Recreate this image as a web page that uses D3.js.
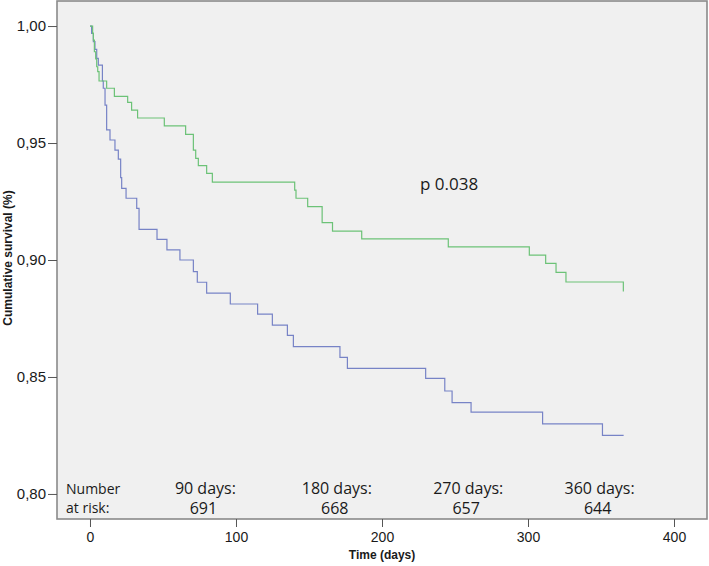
<!DOCTYPE html>
<html>
<head>
<meta charset="utf-8">
<script src="https://cdnjs.cloudflare.com/ajax/libs/d3/7.8.5/d3.min.js"></script>
<style>
  html, body { margin: 0; padding: 0; background: #fff; }
  svg text { fill: #1a1a1a; }
</style>
</head>
<body>
<div id="chart"></div>
<script>
// Kaplan-Meier steps: [time (days), cumulative survival]
const greenSteps = [
  [0, 1.0], [1.8, 0.9969], [2.3, 0.994], [3.0, 0.989], [3.9, 0.986], [4.6, 0.9826],
  [5.3, 0.9805], [6.2, 0.9765], [11.4, 0.9734], [16.7, 0.9699], [25.8, 0.9674],
  [28.5, 0.9641], [32.6, 0.9607], [50.9, 0.9573], [65.5, 0.9537], [70.8, 0.947],
  [72.4, 0.9434], [74.2, 0.9403], [79.9, 0.937], [83.8, 0.9333], [140.2, 0.9299],
  [141.1, 0.9264], [149.1, 0.9228], [159.0, 0.916], [166.1, 0.9123], [186.1, 0.909],
  [245.4, 0.9056], [300.9, 0.9021], [312.1, 0.8986], [319.2, 0.8947], [326.0, 0.8906],
  [365.3, 0.8865]
];
const blueSteps = [
  [0, 1.0], [1.1, 0.9969], [2.3, 0.9933], [3.4, 0.99], [4.6, 0.9862], [5.7, 0.9833],
  [8.5, 0.9765], [9.1, 0.9734], [10.3, 0.9662], [11.4, 0.9556], [13.7, 0.9513],
  [17.1, 0.947], [19.4, 0.9431], [21.0, 0.9352], [21.7, 0.9306], [24.7, 0.9264],
  [32.0, 0.9221], [33.6, 0.9131], [45.9, 0.9088], [52.7, 0.9043], [61.6, 0.9],
  [70.8, 0.895], [73.5, 0.8905], [79.9, 0.8858], [96.1, 0.8812], [114.8, 0.8769],
  [124.9, 0.8722], [135.2, 0.8678], [139.3, 0.863], [171.2, 0.8584], [176.3, 0.8537],
  [229.9, 0.8494], [243, 0.844], [248, 0.839], [261, 0.835], [310, 0.83],
  [351, 0.825], [365.5, 0.825]
];

const xTicks = [0, 100, 200, 300, 400];
const yTicks = [0.80, 0.85, 0.90, 0.95, 1.00];
const riskDays = [90, 180, 270, 360];
const riskCounts = [691, 668, 657, 644];
const pLabel = "p 0.038";

const width = 709, height = 566;
const plot = { left: 57, right: 707, top: 1, bottom: 519 };

const svg = d3.select("#chart").append("svg")
  .attr("width", width)
  .attr("height", height);

const x = d3.scaleLinear()
  .domain([-22.6, 422.6])
  .range([plot.left, plot.right]);

const y = d3.scaleLinear()
  .domain([0.7893, 1.0107])
  .range([plot.bottom, plot.top]);

// plot background
svg.append("rect")
  .attr("x", plot.left)
  .attr("y", plot.top)
  .attr("width", plot.right - plot.left)
  .attr("height", plot.bottom - plot.top)
  .attr("fill", "#f0f0f0")
  .attr("stroke", "#8a8a8a")
  .attr("stroke-width", 1.6);

// y axis
const yAxis = d3.axisLeft(y)
  .tickValues(yTicks)
  .tickSize(9)
  .tickPadding(2)
  .tickFormat(d => d3.format(".2f")(d).replace(".", ","));

const gy = svg.append("g")
  .attr("transform", `translate(${plot.left},0)`)
  .call(yAxis);
gy.select(".domain").remove();
gy.selectAll(".tick line").attr("stroke", "#555");
gy.selectAll(".tick text")
  .style("font-family", "'Liberation Sans', Arial, sans-serif")
  .style("font-size", "15px");

// x axis
const xAxis = d3.axisBottom(x)
  .tickValues(xTicks)
  .tickSize(8)
  .tickPadding(5)
  .tickFormat(d3.format("d"));

const gx = svg.append("g")
  .attr("transform", `translate(0,${plot.bottom})`)
  .call(xAxis);
gx.select(".domain").remove();
gx.selectAll(".tick line").attr("stroke", "#555");
gx.selectAll(".tick text")
  .style("font-family", "'Liberation Sans', Arial, sans-serif")
  .style("font-size", "14px");

// axis titles
svg.append("text")
  .attr("x", 382)
  .attr("y", 559)
  .attr("text-anchor", "middle")
  .style("font-family", "'Liberation Sans', Arial, sans-serif")
  .style("font-weight", "bold")
  .style("font-size", "12px")
  .text("Time (days)");

svg.append("text")
  .attr("transform", "translate(12,258) rotate(-90)")
  .attr("text-anchor", "middle")
  .style("font-family", "'Liberation Sans', Arial, sans-serif")
  .style("font-weight", "bold")
  .style("font-size", "12px")
  .text("Cumulative survival (%)");

// survival curves
const line = d3.line()
  .x(d => x(d[0]))
  .y(d => y(d[1]))
  .curve(d3.curveStepAfter);

svg.append("path")
  .datum(blueSteps)
  .attr("fill", "none")
  .attr("stroke", "#7783c6")
  .attr("stroke-width", 1.2)
  .attr("d", line);

svg.append("path")
  .datum(greenSteps)
  .attr("fill", "none")
  .attr("stroke", "#6cc277")
  .attr("stroke-width", 1.2)
  .attr("d", line);

// annotations
const annoFont = "'Open Sans', 'Noto Sans', sans-serif";
const row1 = 494, row2 = 513;

svg.append("text")
  .attr("x", 420)
  .attr("y", 190)
  .style("font-family", annoFont)
  .style("font-size", "17px")
  .text(pLabel);

svg.append("text")
  .attr("x", 66)
  .attr("y", row1)
  .style("font-family", annoFont)
  .style("font-size", "14px")
  .text("Number");

svg.append("text")
  .attr("x", 66)
  .attr("y", row2)
  .style("font-family", annoFont)
  .style("font-size", "14px")
  .text("at risk:");

svg.selectAll("text.riskHead")
  .data(riskDays)
  .enter()
  .append("text")
  .attr("class", "riskHead")
  .attr("x", d => x(d) - 16)
  .attr("y", row1)
  .attr("text-anchor", "middle")
  .style("font-family", annoFont)
  .style("font-size", "16px")
  .text(d => d + " days:");

svg.selectAll("text.riskCount")
  .data(riskCounts)
  .enter()
  .append("text")
  .attr("class", "riskCount")
  .attr("x", (d, i) => x(riskDays[i]) - 18)
  .attr("y", row2 + 1)
  .attr("text-anchor", "middle")
  .style("font-family", annoFont)
  .style("font-size", "16px")
  .text(d => d);
</script>
</body>
</html>
